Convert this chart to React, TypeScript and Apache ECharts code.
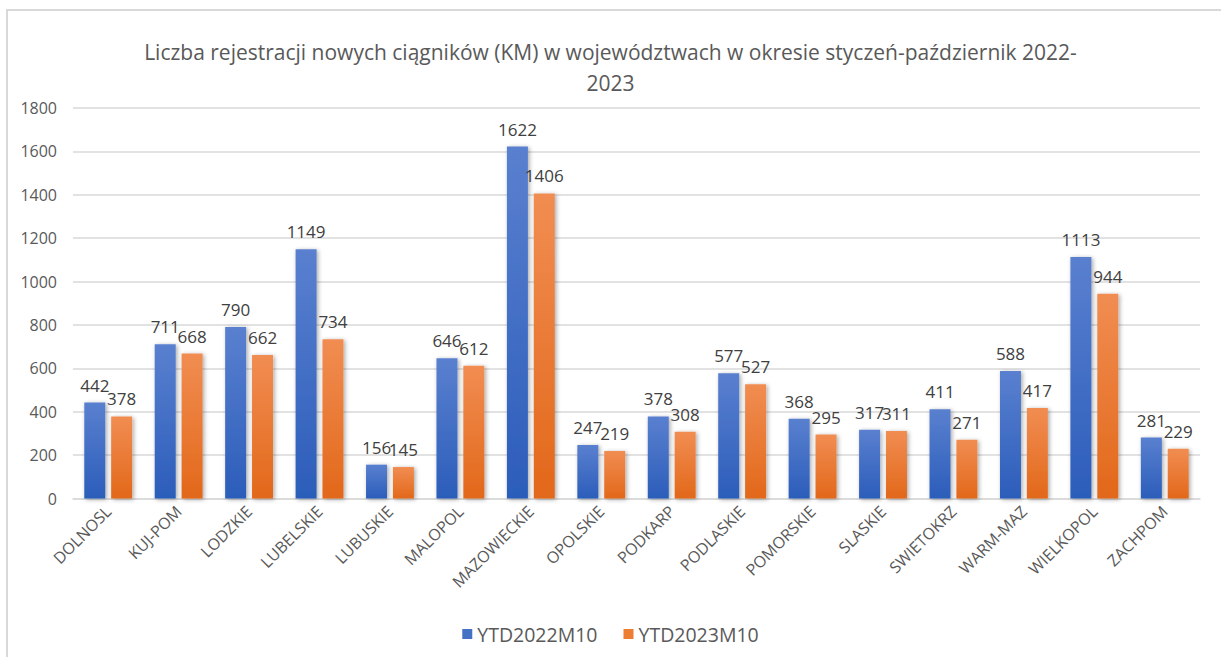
import React, { useEffect, useRef } from "react";
import * as echarts from "echarts";

const categories = [
  "DOLNOSL", "KUJ-POM", "LODZKIE", "LUBELSKIE", "LUBUSKIE", "MALOPOL",
  "MAZOWIECKIE", "OPOLSKIE", "PODKARP", "PODLASKIE", "POMORSKIE", "SLASKIE",
  "SWIETOKRZ", "WARM-MAZ", "WIELKOPOL", "ZACHPOM",
];
const ytd2022 = [442, 711, 790, 1149, 156, 646, 1622, 247, 378, 577, 368, 317, 411, 588, 1113, 281];
const ytd2023 = [378, 668, 662, 734, 145, 612, 1406, 219, 308, 527, 295, 311, 271, 417, 944, 229];
const seriesNames = ["YTD2022M10", "YTD2023M10"];
const titleText = "Liczba rejestracji nowych ciągników (KM) w województwach w okresie styczeń-październik 2022-\n2023";

const FONT = "'Open Sans', sans-serif";

export default function App() {
  const ref = useRef<HTMLDivElement>(null);
  useEffect(() => {
    document.body.style.margin = "0";
    const chart = echarts.init(ref.current!, undefined, { renderer: "svg" });
    const grad = (top: string, bottom: string) =>
      new echarts.graphic.LinearGradient(0, 0, 0, 1, [
        { offset: 0, color: top },
        { offset: 1, color: bottom },
      ]);
    const mkSeries = (name: string, data: number[], top: string, bottom: string) => ({
      name,
      type: "bar",
      data,
      barWidth: 21,
      barGap: "28%",
      itemStyle: {
        color: grad(top, bottom),
        shadowBlur: 4,
        shadowColor: "rgba(0,0,0,0.35)",
        shadowOffsetX: 1.5,
        shadowOffsetY: 1,
      },
      label: {
        show: true,
        position: "top",
        distance: 9,
        color: "#404040",
        fontFamily: FONT,
        fontSize: 17,
      },
    });
    chart.setOption({
      animation: false,
      textStyle: { fontFamily: FONT },
      title: {
        text: titleText,
        left: "center",
        top: 31,
        textStyle: {
          color: "#595959",
          fontFamily: FONT,
          fontSize: 21,
          fontWeight: "normal",
          lineHeight: 31,
        },
      },
      legend: {
        bottom: 8,
        left: "center",
        itemWidth: 10,
        itemHeight: 10,
        itemGap: 26,
        icon: "rect",
        textStyle: { color: "#595959", fontFamily: FONT, fontSize: 19.5 },
        data: [
          { name: seriesNames[0], itemStyle: { color: "#4472C4" } },
          { name: seriesNames[1], itemStyle: { color: "#ED7D31" } },
        ],
      },
      grid: { left: 73, right: 21, top: 108, bottom: 158.5, containLabel: false },
      xAxis: {
        type: "category",
        data: categories,
        axisLine: { lineStyle: { color: "#d9d9d9", width: 1.5 } },
        axisTick: { show: false },
        axisLabel: {
          rotate: 45,
          interval: 0,
          margin: 10,
          color: "#595959",
          fontFamily: FONT,
          fontSize: 16,
        },
      },
      yAxis: {
        type: "value",
        min: 0,
        max: 1800,
        interval: 200,
        axisLine: { show: false },
        axisTick: { show: false },
        splitLine: { lineStyle: { color: "#d9d9d9", width: 1.5 } },
        axisLabel: {
          color: "#595959",
          fontFamily: FONT,
          fontSize: 16,
          margin: 16,
          formatter: (v: number) => String(v),
        },
      },
      series: [
        mkSeries(seriesNames[0], ytd2022, "#5A80CF", "#2B5DBA"),
        mkSeries(seriesNames[1], ytd2023, "#F18D52", "#E2681A"),
      ],
    });
    return () => chart.dispose();
  }, []);
  return (
    <div style={{ position: "relative", width: 1221, height: 657, overflow: "hidden", background: "#fff" }}>
      <div
        style={{
          position: "absolute",
          left: 6,
          top: 9,
          width: 1240,
          height: 680,
          border: "2px solid #d9d9d9",
          boxSizing: "border-box",
        }}
      />
      <div ref={ref} style={{ position: "absolute", left: 0, top: 0, width: 1221, height: 657 }} />
    </div>
  );
}
